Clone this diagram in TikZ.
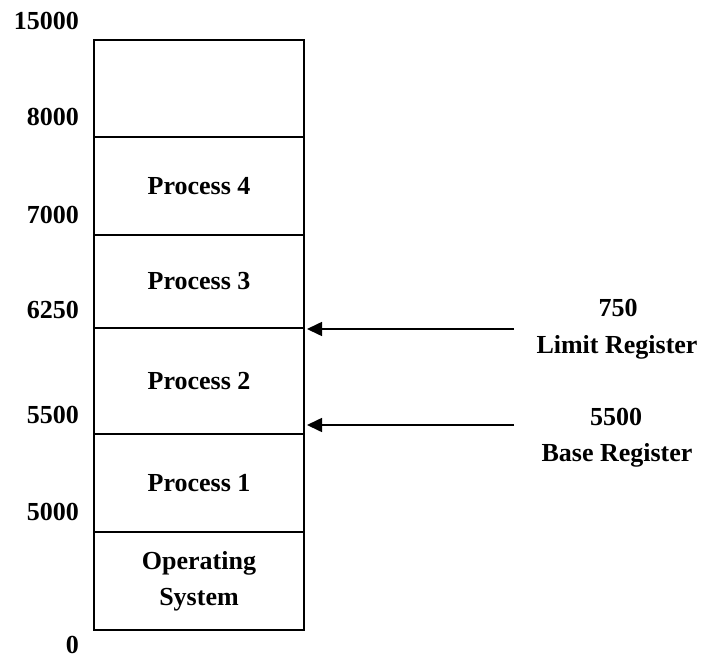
\documentclass[tikz,border=0pt]{standalone}
\usepackage{fontspec}
\setmainfont{Liberation Serif}
\usetikzlibrary{arrows.meta}
\begin{document}
\begin{tikzpicture}[x=1pt,y=-1pt,
  blk/.style={draw,line width=1.6pt,minimum width=210pt,inner sep=0pt,align=center,font=\bfseries\fontsize{26}{36}\selectfont},
  lbl/.style={anchor=east,inner sep=0pt,font=\bfseries\fontsize{26}{30}\selectfont},
  reg/.style={inner sep=0pt,font=\bfseries\fontsize{26}{30}\selectfont},
  arr/.style={line width=1.6pt,-{Triangle[length=15pt,width=14pt]}}]
\useasboundingbox (0,0) rectangle (702,658);
\node[blk,minimum height=97pt] (b6) at (199,88.5) {};
\node[blk,minimum height=98pt] (b5) at (199,186) {Process 4};
\node[blk,minimum height=93pt] (b4) at (199,281.5) {Process 3};
\node[blk,minimum height=106pt] (b3) at (199,381) {Process 2};
\node[blk,minimum height=98pt] (b2) at (199,483) {Process 1};
\node[blk,minimum height=98pt] (b1) at (199,581) {Operating\\System};
\node[lbl] (l15000) at (79,21) {15000};
\node[lbl] (l8000) at (79,117) {8000};
\node[lbl] (l7000) at (79,215) {7000};
\node[lbl] (l6250) at (79,310) {6250};
\node[lbl] (l5500) at (79,415) {5500};
\node[lbl] (l5000) at (79,512) {5000};
\node[lbl] (l0) at (79,645) {0};
\node[reg] (v750) at (618,308) {750};
\node[reg] (limit) at (617,347) {Limit Register};
\node[reg] (v5500) at (616,417) {5500};
\node[reg] (base) at (617,455) {Base Register};
\coordinate (lt) at (514,329);
\coordinate (lh) at (307,329);
\coordinate (bt) at (514,425);
\coordinate (bh) at (307,425);
\draw[arr] (lt) -- (lh);
\draw[arr] (bt) -- (bh);
\end{tikzpicture}
\end{document}
